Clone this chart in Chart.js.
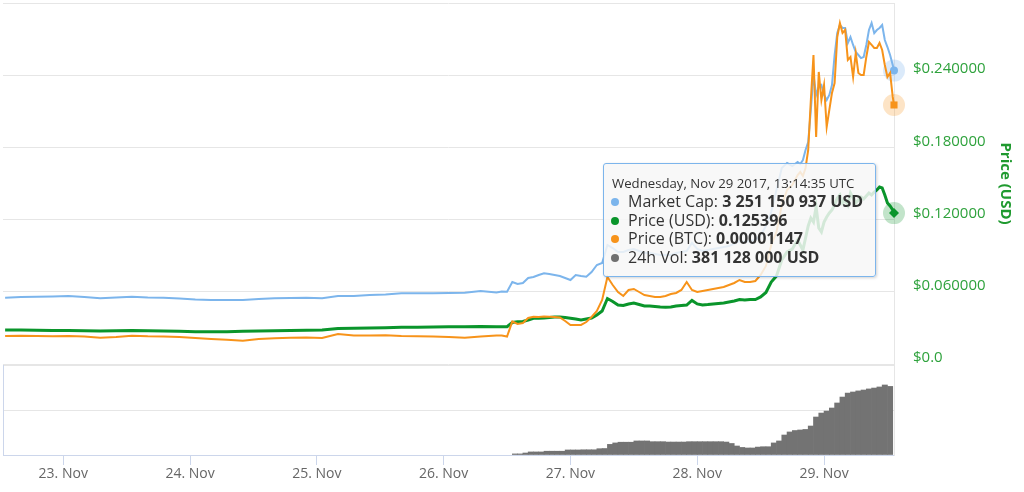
<!DOCTYPE html>
<html>
<head>
<meta charset="utf-8">
<script src="https://cdn.jsdelivr.net/npm/chart.js@4.4.1/dist/chart.umd.min.js"></script>
<style>
  html, body { margin: 0; padding: 0; background: #fff; }
  body { width: 1024px; height: 492px; position: relative; overflow: hidden; font-family: "Open Sans", sans-serif; }
  #main { position: absolute; left: 0; top: 0; width: 1024px; height: 368px; }
  #vol  { position: absolute; left: 0; top: 360px; width: 1024px; height: 132px; }
  #tip {
    position: absolute; left: 603px; top: 163px; width: 273px; height: 114px;
    box-sizing: border-box; border: 1px solid #7cb5ec; border-radius: 3px;
    background: rgba(247,247,247,0.85); box-shadow: 1px 1px 3px rgba(0,0,0,0.18);
    padding: 10px 0 0 8px; color: #333; white-space: nowrap;
  }
  #tip .hd  { font-size: 13.2px; line-height: 18px; }
  #tip .row { font-size: 16px; line-height: 18.7px; margin-left: -1px; }
  #tip .dot { display: inline-block; width: 8px; height: 8px; border-radius: 50%; margin-right: 9px; vertical-align: 1px; }
  #tip b { font-weight: 700; }
</style>
</head>
<body>
<div id="main"><canvas id="mainChart"></canvas></div>
<div id="vol"><canvas id="volChart"></canvas></div>
<div id="tip">
  <div class="hd">Wednesday, Nov 29 2017, 13:14:35 UTC</div>
  <div class="row"><span class="dot" style="background:#7cb5ec"></span>Market Cap: <b>3 251 150 937 USD</b></div>
  <div class="row"><span class="dot" style="background:#0a952b"></span>Price (USD): <b>0.125396</b></div>
  <div class="row"><span class="dot" style="background:#f7931a"></span>Price (BTC): <b>0.00001147</b></div>
  <div class="row"><span class="dot" style="background:#707070"></span>24h Vol: <b>381 128 000 USD</b></div>
</div>
<script>
"use strict";

// ── Time axis: hours since 22 Nov 2017 00:00 UTC
const X_MIN = 12.6, X_MAX = 181.24;
const dayTicks  = [24, 48, 72, 96, 120, 144, 168];
const dayLabels = ["23. Nov", "24. Nov", "25. Nov", "26. Nov", "27. Nov", "28. Nov", "29. Nov"];

const hours = [
  13,16,19,22,25,28,31,34,37,40,43,46,49,52,55,58,61,64,67,70,73,76,79,82,85,88,91,94,97,100,103,106,
  107,108,109,110,111,112,113,114,115,116,117,118,119,120,121,122,123,124,125,126,127,128,129,130,
  131,132,133,134,135,136,137,138,139,140,141,142,143,144,145,146,147,148,149,150,151,152,153,154,
  155,156,157,158,159,160,161,162,163,
  163.5,164,164.5,165,165.5,166,166.5,167,167.5,168,168.5,169,169.5,170,170.5,171,171.5,172,172.5,
  173,173.5,174,174.5,175,175.5,176,176.5,177,177.5,178,178.5,179,179.5,180,180.5,181,181.24
];

// Market cap, billions USD
const marketCap = [
  0.735,0.742,0.746,0.748,0.753,0.742,0.728,0.737,0.746,0.737,0.735,0.726,0.715,0.709,0.709,0.709,
  0.720,0.728,0.731,0.735,0.728,0.753,0.753,0.765,0.770,0.783,0.783,0.783,0.787,0.790,0.809,0.792,
  0.803,0.801,0.909,0.886,0.897,0.953,0.964,0.986,1.005,0.997,0.986,0.975,0.953,0.931,0.986,0.975,
  0.967,1.019,1.097,1.119,1.319,1.285,1.241,1.241,1.263,1.274,1.252,1.230,1.230,1.219,1.208,1.208,
  1.208,1.230,1.241,1.252,1.341,1.274,1.252,1.263,1.274,1.285,1.296,1.307,1.330,1.363,1.352,1.363,
  1.374,1.429,1.529,1.684,1.928,2.172,2.227,2.194,2.238,
  2.216,2.260,2.371,2.460,2.814,3.202,2.981,3.069,3.091,2.981,2.925,2.981,3.091,3.424,3.667,3.756,
  3.723,3.723,3.557,3.623,3.535,3.457,3.424,3.390,3.402,3.535,3.701,3.778,3.667,3.701,3.723,3.756,
  3.590,3.512,3.424,3.313,3.251
];

// Price, USD
const priceUsd = [
  0.02825,0.02825,0.0280,0.02784,0.02784,0.02767,0.02742,0.02767,0.02784,0.02767,0.02742,0.02717,
  0.02684,0.02684,0.02684,0.02717,0.02742,0.02767,0.02784,0.0280,0.02825,0.0295,0.02967,0.02992,
  0.03017,0.0305,0.0305,0.03075,0.03091,0.031,0.03116,0.031,
  0.0310,0.0310,0.0345,0.0352,0.0353,0.0366,0.0380,0.0380,0.0382,0.0386,0.0391,0.0391,0.0386,0.0380,
  0.0374,0.0366,0.0374,0.0382,0.0407,0.0440,0.0544,0.0519,0.0490,0.0486,0.0499,0.0507,0.0494,0.0482,
  0.0482,0.0478,0.0474,0.0471,0.0474,0.0482,0.0486,0.0490,0.0528,0.0499,0.0490,0.0494,0.0499,0.0503,
  0.0507,0.0515,0.0524,0.0536,0.0532,0.0536,0.0536,0.0557,0.0594,0.0681,0.0731,0.0864,0.0931,0.0956,0.1030,
  0.0989,0.0947,0.1047,0.1147,0.1213,0.1180,0.1305,0.1130,0.1097,0.1180,0.1222,0.1255,0.1280,0.1321,
  0.1379,0.1404,0.1338,0.1363,0.1321,0.1421,0.1379,0.1338,0.1363,0.1388,0.1371,0.1396,0.1421,0.1404,
  0.1429,0.1446,0.1471,0.1463,0.1404,0.1338,0.1313,0.1280,0.125396
];

// Price, micro-BTC
const priceBtc = [
  3.470,3.480,3.470,3.459,3.470,3.452,3.411,3.435,3.480,3.459,3.452,3.435,3.400,3.366,3.341,3.307,
  3.366,3.390,3.411,3.418,3.400,3.539,3.487,3.487,3.494,3.470,3.459,3.452,3.435,3.411,3.452,3.487,
  3.487,3.452,3.972,3.885,3.920,4.093,4.138,4.128,4.145,4.138,4.128,4.110,3.989,3.851,3.851,3.851,
  3.954,4.128,4.335,4.716,5.513,5.236,4.993,4.855,5.063,5.097,4.993,4.889,4.855,4.820,4.820,4.855,
  4.924,4.959,5.063,5.340,5.063,4.993,5.028,5.063,5.097,5.132,5.167,5.236,5.305,5.409,5.340,5.340,
  5.374,5.582,5.894,6.621,7.071,8.006,8.526,8.699,9.045,
  9.149,9.010,9.287,9.911,11.642,13.201,10.361,12.612,11.642,12.162,10.707,11.296,11.885,12.231,
  13.824,14.309,13.963,14.066,13.028,13.131,12.439,13.270,12.577,12.508,12.508,13.131,13.651,13.547,
  13.443,13.443,13.616,13.374,12.854,12.439,12.577,11.746,11.469
];

// 24h volume, millions USD, one bar per hour from 26 Nov 13:00
const volStartHour = 109.5;
const volume = [
  6,6,11,17,17,17,21,21,21,21,28,28,28,29,29,29,35,36,59,67,71,71,71,78,78,78,74,74,74,72,72,72,
  72,74,74,74,74,74,74,74,72,64,50,42,39,39,44,46,46,67,78,111,128,136,139,142,161,211,233,244,
  261,289,322,344,350,356,361,367,372,378,389,381
];

// ── Colours
const C_MCAP = "#7cb5ec", C_USD = "#0a952b", C_BTC = "#f7931a", C_VOL = "#737373";

Chart.defaults.font.family = '"Open Sans", sans-serif';
Chart.defaults.animation = false;

const last   = hours.length - 1;
const series = vals => hours.map((h, i) => ({ x: h, y: vals[i] }));
const tipPt  = vals => [{ x: hours[last], y: vals[last] }];
const onLast = r => ctx => (ctx.dataIndex === last ? r : 0);
const noPad  = s => { s.paddingTop = 0; s.paddingBottom = 0; };
const setDays = s => { s.ticks = dayTicks.map(v => ({ value: v })); };

const lineDs = (vals, color, axis, width, style, order) => ({
  data: series(vals), yAxisID: axis, borderColor: color, backgroundColor: color,
  borderWidth: width, tension: 0, clip: false, order,
  pointRadius: onLast(style === "circle" ? 4 : 5), pointStyle: style,
  pointBorderWidth: 0, pointBackgroundColor: color,
});
const haloDs = (vals, rgba, axis) => ({
  data: tipPt(vals), yAxisID: axis, showLine: false, clip: false, order: 10,
  pointRadius: 11, pointBorderWidth: 0, pointBackgroundColor: rgba,
});

new Chart(document.getElementById("mainChart"), {
  type: "line",
  data: { datasets: [
    haloDs(marketCap, "rgba(124,181,236,0.28)", "yMcap"),
    haloDs(priceBtc,  "rgba(247,147,26,0.25)",  "yBtc"),
    haloDs(priceUsd,  "rgba(10,149,43,0.25)",   "yUsd"),
    lineDs(marketCap, C_MCAP, "yMcap", 2, "circle",  3),
    lineDs(priceUsd,  C_USD,  "yUsd",  3, "rectRot", 2),
    lineDs(priceBtc,  C_BTC,  "yBtc",  2, "rect",    1),
  ]},
  options: {
    responsive: true, maintainAspectRatio: false,
    layout: { autoPadding: false, padding: { top: 3, left: 3, right: 0, bottom: 4 } },
    plugins: { legend: { display: false }, tooltip: { enabled: false } },
    scales: {
      x:     { type: "linear", display: false, min: X_MIN, max: X_MAX },
      yMcap: { type: "linear", display: false, min: 0, max: 4.0 },
      yBtc:  { type: "linear", display: false, min: 2.5, max: 15 },
      yUsd:  {
        type: "linear", position: "right", min: 0, max: 0.3,
        afterFit: s => { s.width = 130; noPad(s); },
        grid:   { color: "#e6e6e6", drawTicks: false },
        border: { color: "#e6e6e6" },
        ticks:  {
          stepSize: 0.06, padding: 19, labelOffset: -6, color: "#2ea23c",
          font: { size: 15 },
          callback: v => (v > 0.299 ? "" : v === 0 ? "$0.0" : "$" + v.toFixed(6)),
        },
        title: { display: true, text: "Price (USD)", color: "#1f9a2f",
                 font: { size: 15, weight: "bold" }, padding: { top: 10, bottom: 0 } },
      },
    },
  },
});

new Chart(document.getElementById("volChart"), {
  type: "bar",
  data: { datasets: [{
    data: volume.map((v, i) => ({ x: volStartHour + i, y: v })),
    xAxisID: "x", yAxisID: "yVol",
    backgroundColor: C_VOL, borderWidth: 0, barPercentage: 1, categoryPercentage: 1,
  }]},
  options: {
    responsive: true, maintainAspectRatio: false,
    layout: { autoPadding: false, padding: { top: 5, left: 0, right: 0, bottom: 0 } },
    plugins: { legend: { display: false }, tooltip: { enabled: false } },
    scales: {
      x: {
        type: "linear", min: X_MIN, max: X_MAX, offset: false,
        afterBuildTicks: setDays,
        afterFit: s => { s.height = 37; },
        grid:   { drawOnChartArea: false, offset: false, color: "#ccd6eb", tickLength: 10 },
        border: { color: "#ccd6eb" },
        ticks:  { padding: 1, color: "#666", font: { size: 14 }, maxRotation: 0, autoSkip: false,
                  callback: v => dayLabels[dayTicks.indexOf(v)] },
      },
      yVol: {
        type: "linear", position: "left", min: 0, max: 500,
        afterFit: s => { s.width = 3; noPad(s); },
        grid:   { color: "#e6e6e6", drawTicks: false },
        border: { color: "#ccd6eb" },
        ticks:  { display: false, stepSize: 250 },
      },
      yEdge: {
        type: "linear", position: "right", min: 0, max: 1,
        afterFit: s => { s.width = 130; noPad(s); },
        grid:   { drawOnChartArea: false, drawTicks: false },
        border: { color: "#e6e6e6" },
        ticks:  { display: false },
      },
    },
  },
});
</script>
</body>
</html>
